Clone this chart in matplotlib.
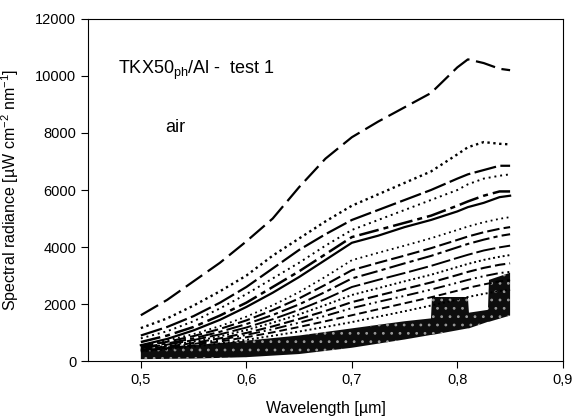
import matplotlib
matplotlib.use('Agg')
import matplotlib.pyplot as plt

plt.rcParams['font.family'] = ['Liberation Sans', 'DejaVu Sans']
plt.rcParams['mathtext.default'] = 'regular'
plt.rcParams['hatch.linewidth'] = 0.8

# wavelength grid (µm) shared by the individual curves
wl = [0.50, 0.525, 0.55, 0.575, 0.60, 0.625, 0.65, 0.675, 0.70, 0.725, 0.75, 0.775, 0.80, 0.81, 0.825, 0.84, 0.85]

# spectral radiance, upper curves
top = [1610, 2150, 2800, 3450, 4200, 5000, 6100, 7100, 7850, 8400, 8900, 9400, 10300, 10580, 10450, 10250, 10200]
c_a = [1160, 1500, 1950, 2450, 3000, 3700, 4300, 4900, 5450, 5850, 6250, 6650, 7250, 7500, 7680, 7620, 7600]
c_b = [900, 1200, 1580, 2050, 2600, 3250, 3900, 4450, 4950, 5300, 5650, 6000, 6400, 6550, 6700, 6850, 6850]
c_c = [800, 1050, 1400, 1850, 2350, 2900, 3450, 4050, 4600, 4950, 5300, 5650, 6000, 6200, 6400, 6500, 6550]
c_d = [670, 900, 1200, 1600, 2050, 2600, 3150, 3750, 4350, 4600, 4850, 5100, 5450, 5600, 5800, 5950, 5950]
c_e = [560, 780, 1080, 1450, 1900, 2400, 2950, 3550, 4150, 4400, 4700, 4950, 5250, 5400, 5550, 5750, 5800]

# middle curves
m1 = [560, 730, 950, 1230, 1560, 1960, 2420, 2960, 3540, 3800, 4050, 4310, 4600, 4720, 4870, 4990, 5050]
m2 = [520, 680, 880, 1130, 1430, 1790, 2200, 2680, 3190, 3450, 3700, 3960, 4250, 4370, 4520, 4640, 4700]
m3 = [480, 620, 800, 1030, 1300, 1620, 1990, 2430, 2900, 3160, 3430, 3690, 3990, 4110, 4260, 4390, 4450]
m4 = [450, 580, 740, 940, 1180, 1470, 1800, 2180, 2600, 2850, 3090, 3340, 3620, 3730, 3880, 3990, 4050]
m5 = [420, 540, 690, 870, 1090, 1350, 1640, 1970, 2320, 2560, 2800, 3030, 3300, 3410, 3550, 3660, 3720]
m6 = [400, 510, 640, 800, 990, 1220, 1480, 1760, 2070, 2300, 2530, 2760, 3020, 3130, 3270, 3380, 3430]
m7 = [380, 480, 600, 750, 920, 1120, 1350, 1590, 1860, 2080, 2290, 2510, 2750, 2850, 2980, 3090, 3130]
m8 = [360, 450, 560, 690, 840, 1010, 1200, 1400, 1610, 1820, 2030, 2240, 2470, 2570, 2690, 2800, 2840]
m9 = [340, 420, 510, 620, 750, 890, 1040, 1200, 1370, 1560, 1750, 1950, 2160, 2250, 2360, 2460, 2500]

# dense band of low curves
band_wl = [0.50, 0.55, 0.60, 0.65, 0.70, 0.75, 0.775, 0.776, 0.81, 0.811, 0.829, 0.830, 0.85]
band_top = [420, 560, 720, 900, 1150, 1400, 1500, 2250, 2250, 1700, 1800, 2850, 3100]
band_bot = [70, 90, 140, 250, 470, 760, 920, 920, 1150, 1150, 1380, 1380, 1600]

x_ticks = [0.5, 0.6, 0.7, 0.8, 0.9]
x_tick_labels = ['0,5', '0,6', '0,7', '0,8', '0,9']
y_ticks = [0, 2000, 4000, 6000, 8000, 10000, 12000]

curves = [
    (top, (0, (9, 3)), 1.6),
    (c_a, (0, (1, 1.5)), 1.7),
    (c_b, (0, (10, 2)), 1.6),
    (c_c, (0, (1, 2)), 1.4),
    (c_d, (0, (8, 2, 2, 2)), 1.8),
    (c_e, '-', 1.6),
    (m1, (0, (1, 2)), 1.3),
    (m2, (0, (6, 2)), 1.5),
    (m3, (0, (8, 2, 2, 2)), 1.5),
    (m4, (0, (10, 2)), 1.4),
    (m5, (0, (1, 1.5)), 1.4),
    (m6, (0, (5, 2)), 1.5),
    (m7, (0, (6, 2, 1, 2, 1, 2)), 1.4),
    (m8, (0, (4, 2)), 1.4),
    (m9, (0, (1, 1.5)), 1.4),
]

fig = plt.figure(figsize=(5.72, 4.19), dpi=100)
ax = fig.add_axes([0.154, 0.138, 0.830, 0.817])

ax.fill_between(band_wl, band_bot, band_top, facecolor='0.05', edgecolor='0.6',
                hatch='..', linewidth=0)
for y, ls, lw in curves:
    ax.plot(wl, y, color='black', linestyle=ls, lw=lw)

ax.set_xlim(0.45, 0.9)
ax.set_ylim(0, 12000)
ax.set_xticks(x_ticks)
ax.set_xticklabels(x_tick_labels)
ax.set_yticks(y_ticks)
ax.tick_params(direction='out', length=5, labelsize=10.5, top=False, right=False)
ax.set_xlabel('Wavelength [µm]', fontsize=11.5, labelpad=10)
ax.set_ylabel('Spectral radiance [µW cm$^{-2}$ nm$^{-1}$]', fontsize=11.5, labelpad=10)

ax.text(0.478, 10200, 'TKX50$_{ph}$/Al -  test 1', fontsize=13, va='center')
ax.text(0.523, 8200, 'air', fontsize=13, va='center')

fig.savefig('out.png', dpi=100)
